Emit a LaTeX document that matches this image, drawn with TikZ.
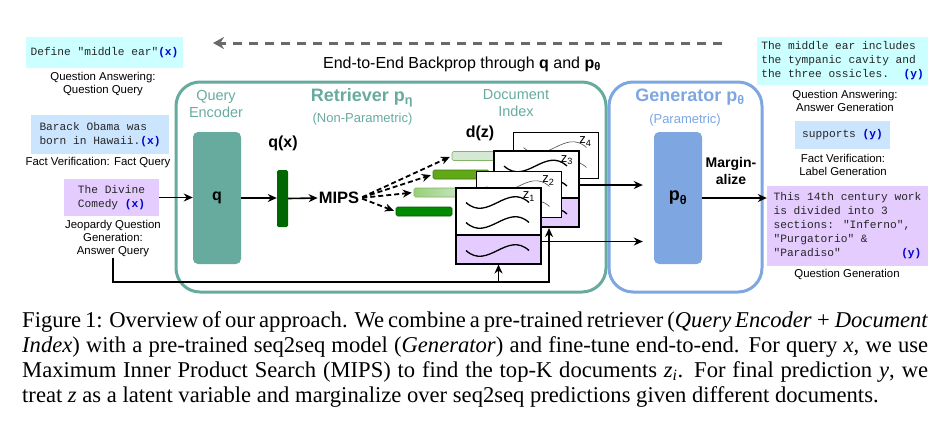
\documentclass[tikz,border=0pt]{standalone}
\usepackage{fontspec}
\setmainfont{Liberation Sans}
\newfontfamily\capfont{Liberation Serif}
\newfontfamily\cour{Liberation Mono}
\usetikzlibrary{arrows.meta,calc}
\definecolor{teal1}{HTML}{67AB9F}
\definecolor{blue1}{HTML}{7EA6E0}
\definecolor{cyanbox}{HTML}{CCFFFF}
\definecolor{bluebox}{HTML}{CCE5FF}
\definecolor{purplebox}{HTML}{E5CCFF}
\definecolor{xblue}{HTML}{0000CC}
\definecolor{qgreen}{HTML}{006600}
\definecolor{darkg}{HTML}{008A00}
\definecolor{midg}{HTML}{60A917}
\definecolor{lightg}{HTML}{D5E8D4}
\definecolor{lgb}{HTML}{82B366}
\definecolor{grad1}{HTML}{97D077}
\definecolor{bpgray}{HTML}{6A6A6A}
\newcommand\xv{\textcolor{xblue}{\textbf{(x)}}}
\newcommand\yv{\textcolor{xblue}{\textbf{(y)}}}
\newcommand\docwave[3]{\draw[#3] ([shift={(11pt,-#2pt)}]#1.north west) .. controls +(22pt,-20pt) and +(-22pt,20pt) .. +(63pt,0pt);}
\begin{document}
\begin{tikzpicture}[x=1pt,y=-1pt,
  monobox/.style={font=\cour\fontsize{11.2}{14}\selectfont, text=black!85, align=left, inner sep=0pt},
  lab/.style={font=\fontsize{11.4}{13}\selectfont, align=center, inner sep=0pt},
  arr/.style={line width=1.6pt, -{Stealth[length=9pt,width=8pt]}},
  darr/.style={line width=1.8pt, dash pattern=on 5pt off 3pt, shorten >=2pt, shorten <=2pt, -{Stealth[length=9pt,width=8pt]}},
  bparr/.style={line width=3pt, bpgray, dash pattern=on 9pt off 7pt, -{Stealth[length=11pt,width=12pt]}},
  bar/.style={minimum width=56pt, minimum height=9pt, inner sep=0pt, rounded corners=1.5pt, line width=0.6pt},
  docfull/.style={draw, line width=2pt, fill=white, minimum width=85pt, minimum height=76pt, inner sep=0pt,
    path picture={\fill[purplebox] (path picture bounding box.south west) rectangle ([yshift=29pt]path picture bounding box.south east);
      \draw[line width=2pt] ([yshift=29pt]path picture bounding box.south west) -- ([yshift=29pt]path picture bounding box.south east);}},
  docthin/.style={draw, line width=1pt, fill=white, minimum width=85pt, minimum height=46pt, inner sep=0pt},
  wv/.style={line width=1.3pt},
  wvthin/.style={line width=0.6pt, black!70},
  zl/.style={font=\fontsize{13}{15}\selectfont, inner sep=0pt}
]
\useasboundingbox (0,0) rectangle (949,429);

% containers
\node[draw=teal1, line width=3pt, rounded corners=24pt, minimum width=430pt, minimum height=210pt] (retr) at (391,187) {};
\node[draw=blue1, line width=3pt, rounded corners=24pt, minimum width=153pt, minimum height=210pt] (gen) at (685.5,187) {};

% backprop
\coordinate (bpR) at (722,43);
\coordinate (bpL) at (213,43);
\draw[bparr] (bpR) -- (bpL);
\node[font=\fontsize{16}{18}\selectfont] (bpt) at (462,64) {End-to-End Backprop through \textbf{q} and \textbf{p\textsubscript{θ}}};

% left queries
\node[monobox, fill=cyanbox, minimum width=157pt, minimum height=31pt] (qa) at (104.5,52.5) {Define "middle ear"\xv};
\node[lab] (qal) at (103,84.5) {Question Answering:\\Question Query};
\node[monobox, fill=bluebox, minimum width=138pt, minimum height=39pt] (fv) at (100,134.5) {Barack Obama was\\born in Hawaii.\xv};
\node[lab] (fvl) at (98,163) {Fact Verification: Fact Query};
\node[monobox, fill=purplebox, minimum width=95pt, minimum height=37pt] (dc) at (111.5,197.5) {The Divine\\Comedy \xv};
\node[lab] (jql) at (113,239) {Jeopardy Question\\Generation:\\Answer Query};

% right outputs
\node[monobox, fill=cyanbox, minimum width=171pt, minimum height=48pt] (ans) at (842.5,61) {The middle ear includes\\the tympanic cavity and\\the three ossicles.\hspace{1.3em}\yv};
\node[lab] (ansl) at (845,100.5) {Question Answering:\\Answer Generation};
\node[monobox, fill=bluebox, minimum width=95pt, minimum height=28pt] (sup) at (842.5,135) {supports \yv};
\node[lab] (supl) at (843,164.5) {Fact Verification:\\Label Generation};
\node[monobox, fill=purplebox, minimum width=161pt, minimum height=80pt] (qgen) at (847.5,226) {This 14th century work\\is divided into 3\\sections: "Inferno",\\"Purgatorio" \&\\\makebox[13.2em][l]{"Paradiso"\hfill\yv}};
\node[lab] (qgenl) at (847,274) {Question Generation};

% retriever labels
\node[font=\fontsize{14.5}{17}\selectfont, text=teal1, align=center, inner sep=0pt] (qel) at (216,104) {Query\\Encoder};
\node[font=\bfseries\fontsize{18}{20}\selectfont, text=teal1, inner sep=0pt] (rl) at (362,98) {Retriever p\textsubscript{η}};
\node[font=\fontsize{13}{15}\selectfont, text=teal1, inner sep=0pt] (rnp) at (362.5,119) {(Non-Parametric)};
\node[font=\fontsize{14.5}{17}\selectfont, text=teal1, align=center, inner sep=0pt] (dil) at (516,103.5) {Document\\Index};

% generator labels
\node[font=\bfseries\fontsize{18}{20}\selectfont, text=blue1, inner sep=0pt] (gl) at (690,97) {Generator p\textsubscript{θ}};
\node[font=\fontsize{13}{15}\selectfont, text=blue1, inner sep=0pt] (gp) at (685,120) {(Parametric)};

% query encoder and vector
\node[fill=teal1, rounded corners=5pt, minimum width=48pt, minimum height=132pt, font=\bfseries\fontsize{16}{18}\selectfont] (qb) at (217,198) {q};
\node[font=\bfseries\fontsize{16}{18}\selectfont, inner sep=0pt] (qxl) at (283,143) {q(x)};
\node[fill=qgreen, rounded corners=1.5pt, minimum width=11pt, minimum height=57pt, inner sep=0pt] (qx) at (282.5,198.5) {};
\node[font=\bfseries\fontsize{16.5}{18}\selectfont, inner sep=1pt] (mips) at (339,198) {MIPS};
\node[font=\bfseries\fontsize{16}{18}\selectfont, inner sep=0pt] (dz) at (480,133) {d(z)};

% document vectors
\node[bar, fill=lightg, draw=lgb] (b1) at (480,156) {};
\node[bar, fill=midg, draw=midg!70!black] (b2) at (461,174.5) {};
\node[bar, left color=grad1, right color=lightg, draw=lgb] (b3) at (442,192.5) {};
\node[bar, fill=darkg, draw=darkg!70!black] (b4) at (424,211.5) {};

% documents
\node[docthin] (z4) at (555.5,155) {};
\docwave{z4}{16}{wvthin}
\docwave{z4}{36}{wvthin}
\node[zl] (z4l) at ([shift={(-13pt,-10pt)}]z4.north east) {z\textsubscript{4}};
\node[docfull] (z3) at (536.5,189) {};
\docwave{z3}{16}{wv}
\docwave{z3}{36}{wv}
\docwave{z3}{64}{wv}
\node[zl] (z3l) at ([shift={(-13pt,-10pt)}]z3.north east) {z\textsubscript{3}};
\node[docthin] (z2) at (518.5,194) {};
\docwave{z2}{16}{wvthin}
\docwave{z2}{36}{wvthin}
\node[zl] (z2l) at ([shift={(-13pt,-10pt)}]z2.north east) {z\textsubscript{2}};
\node[docfull] (z1) at (498.5,225.5) {};
\docwave{z1}{16}{wv}
\docwave{z1}{36}{wv}
\docwave{z1}{64}{wv}
\node[zl] (z1l) at ([shift={(-13pt,-10pt)}]z1.north east) {z\textsubscript{1}};

% generator box
\node[fill=blue1, rounded corners=5pt, minimum width=48pt, minimum height=132pt, font=\bfseries\fontsize{18}{20}\selectfont] (pb) at (678,198) {p\textsubscript{θ}};
\node[font=\bfseries\fontsize{14}{16.5}\selectfont, align=center, inner sep=0pt] (marg) at (731,171) {Margin-\\alize};

% connectors
\draw[arr] (dc.east) -- (dc.east -| qb.west);
\draw[arr] (qb.east) -- (qb.east -| qx.west);
\draw[arr] (qx.east) -- (mips.west);
\foreach \b in {b1,b2,b3,b4} {\draw[darr] (mips.east) -- (\b.west);}
\coordinate (bl) at (549,282);
\draw[arr] (jql.south) |- (bl) -- (bl |- z3.south);
\draw[arr] (z1.south |- bl) -- (z1.south);
\draw[arr, shorten >=11pt] ([yshift=4pt]z3.east) -- ([yshift=4pt]z3.east -| pb.west);
\draw[arr, shorten >=11pt] ([yshift=-16pt]z1.east) -- ([yshift=-16pt]z1.east -| pb.west);
\draw[arr] (pb.east) -- (pb.east -| qgen.west);

% caption
\node[anchor=north west, text width=906pt, align=justify, inner sep=0pt, font=\capfont\fontsize{22.6}{25.2}\selectfont] (cap) at (22,311) {Figure 1: Overview of our approach. We combine a pre-trained retriever (\textit{Query Encoder + Document}\linebreak \textit{Index}) with a pre-trained seq2seq model (\textit{Generator}) and fine-tune end-to-end. For query \textit{x}, we use\linebreak Maximum Inner Product Search (MIPS) to find the top-K documents \textit{z\textsubscript{i}}. For final prediction \textit{y}, we\linebreak treat \textit{z} as a latent variable and marginalize over seq2seq predictions given different documents.};
\end{tikzpicture}
\end{document}
